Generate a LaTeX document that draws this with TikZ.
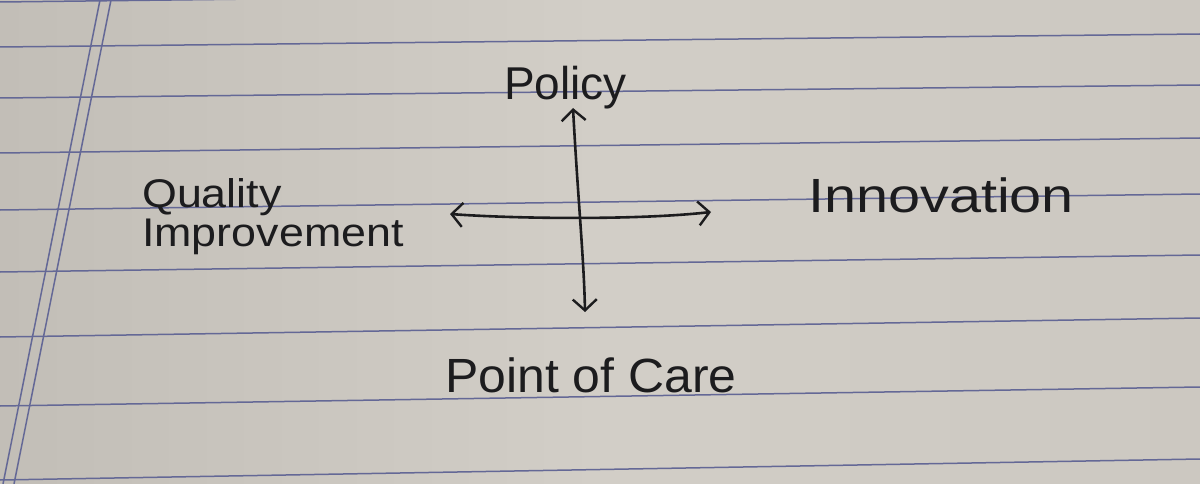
\documentclass[tikz,border=0pt]{standalone}
\usepackage{fontspec}
\setmainfont{Liberation Sans}
\usetikzlibrary{arrows.meta}
\definecolor{paper}{RGB}{204,200,193}
\definecolor{paperdark}{RGB}{194,190,183}
\definecolor{paperlight}{RGB}{210,206,199}
\definecolor{rule}{RGB}{100,104,150}
\definecolor{ink}{RGB}{28,28,30}
\tikzset{
  ruling/.style={rule, line width=1.5pt},
  pen/.style={ink, line width=2.6pt, line cap=round,
    {Straight Barb[length=11pt,width=24pt,line width=2.4pt]}-{Straight Barb[length=11pt,width=24pt,line width=2.4pt]}},
  hand/.style={ink, inner sep=0pt, align=left}
}
\begin{document}
\begin{tikzpicture}[x=1pt,y=-1pt]
\useasboundingbox (0,0) rectangle (1200,484);
\shade[left color=paperdark, right color=paper, middle color=paperlight] (0,0) rectangle (1200,484);
% ruled lines
\foreach \a/\b in {2/-12,47/34,98/85,153/138,210/194,272/255,337/318,406/387,480/459}
  \draw[ruling] (0,\a) -- (1200,\b);
% margin double line
\draw[ruling] (100,0) -- (3,484);
\draw[ruling] (111,0) -- (14,484);
% arrow ends
\coordinate (top) at (573,108);
\coordinate (bot) at (585,312);
\coordinate (lft) at (450,214);
\coordinate (rgt) at (711,212);
\draw[pen] (top) .. controls (578,200) and (584,260) .. (bot);
\draw[pen] (lft) .. controls (520,219) and (640,220) .. (rgt);
% labels
\node[hand, anchor=base west, font=\fontsize{46}{46}\selectfont] (policy) at (504,100) {\scalebox{1.0}[1]{Policy}};
\node[hand, anchor=base west, font=\fontsize{48}{48}\selectfont] (innov) at (808,212) {\scalebox{1.2}[1]{Innovation}};
\node[hand, anchor=base west, font=\fontsize{48}{48}\selectfont] (care) at (445,392) {\scalebox{1.04}[1]{Point of Care}};
\node[hand, anchor=north west, font=\fontsize{40}{41}\selectfont] (qi) at (142,178)
  {\scalebox{1.12}[1]{\begin{tabular}{@{}l@{}}Quality\\[-0.1ex]Improvement\end{tabular}}};
\end{tikzpicture}
\end{document}
